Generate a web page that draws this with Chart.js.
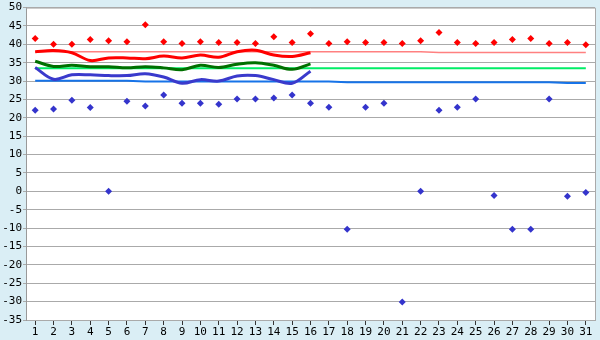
<!DOCTYPE html>
<html><head><meta charset="utf-8">
<script src="https://cdn.jsdelivr.net/npm/chart.js@4/dist/chart.umd.min.js"></script>
<style>html,body{margin:0;padding:0;background:#daeef5}#wrap{width:600px;height:340px}</style>
</head><body><div id="wrap"><canvas id="c" width="600" height="340"></canvas></div>
<script>
const days = Array.from({length:31},(_,i)=>String(i+1));
const maxTemps = [41.6,40.0,40.0,41.3,41.0,40.7,45.3,40.7,40.2,40.7,40.5,40.5,40.2,42.1,40.5,42.9,40.2,40.7,40.5,40.5,40.2,41.0,43.2,40.5,40.2,40.5,41.3,41.6,40.2,40.5,39.9];
const minTemps = [22.1,22.4,24.8,22.8,0,24.5,23.2,26.2,24.0,24.0,23.7,25.1,25.1,25.4,26.2,24.0,22.9,-10.3,22.9,24.0,-30.1,0,22.1,22.9,25.1,-1.1,-10.3,-10.3,25.1,-1.3,-0.3];
const avgMax = [38.0,38.3,37.7,35.6,36.3,36.3,36.1,36.8,36.3,37.1,36.5,38.0,38.4,37.1,36.7,37.7];
const avgMean = [35.4,34.0,34.3,33.9,33.9,33.6,33.9,33.6,33.1,34.3,33.7,34.6,35.0,34.3,33.2,34.7];
const avgMin = [33.7,30.5,31.7,31.7,31.5,31.5,32.0,31.1,29.4,30.4,30.0,31.4,31.5,30.4,29.4,32.7];
const normMax = [38.0,38.0,38.0,38.0,38.0,38.0,38.0,38.0,38.0,38.0,38.0,38.0,38.0,38.0,38.0,38.0,38.0,38.0,38.0,38.0,38.0,38.0,37.8,37.8,37.8,37.8,37.8,37.8,37.8,37.8,37.8];
const normMean = [33.5,33.5,33.5,33.5,33.5,33.5,33.5,33.5,33.5,33.5,33.5,33.5,33.5,33.5,33.5,33.5,33.5,33.5,33.5,33.5,33.5,33.5,33.5,33.5,33.5,33.5,33.5,33.5,33.5,33.5,33.5];
const normMin = [30.1,30.1,30.1,30.1,30.1,30.1,29.9,29.9,29.9,29.9,29.9,29.9,29.9,29.9,29.9,29.9,29.9,29.7,29.7,29.7,29.7,29.7,29.7,29.7,29.7,29.7,29.7,29.7,29.7,29.5,29.5];
const yTicks = {min:-35, max:50, step:5};

const bgPlugin = {
  id:'bg',
  beforeDraw(chart){
    const {ctx, chartArea:a} = chart;
    ctx.save();
    ctx.fillStyle='#daeef5'; ctx.fillRect(0,0,chart.width,chart.height);
    ctx.fillStyle='#ffffff'; ctx.fillRect(a.left,a.top,a.right-a.left,a.bottom-a.top);
    ctx.restore();
  },
  afterDraw(chart){
    const {ctx, chartArea:a} = chart;
    ctx.save();
    ctx.strokeStyle='#aaaaaa'; ctx.lineWidth=1;
    ctx.beginPath();
    ctx.moveTo(a.left, a.top+0.5); ctx.lineTo(a.right+0.5, a.top+0.5);
    ctx.lineTo(a.right+0.5, a.bottom);
    ctx.stroke();
    ctx.restore();
  }
};

const font = {family:'"DejaVu Sans Mono", monospace', size:11};
new Chart(document.getElementById('c'), {
  type:'line',
  data:{labels:days, datasets:[
    {data:maxTemps, showLine:false, pointStyle:'rectRot', pointRadius:3.5, pointBackgroundColor:'#ff0000', pointBorderColor:'#ff0000', borderWidth:0},
    {data:minTemps, showLine:false, pointStyle:'rectRot', pointRadius:3.5, pointBackgroundColor:'#3434cc', pointBorderColor:'#3434cc', borderWidth:0},
    {data:avgMax, borderColor:'#ff0000', borderWidth:3, pointRadius:0, tension:0.35},
    {data:avgMean, borderColor:'#007000', borderWidth:3, pointRadius:0, tension:0.35},
    {data:avgMin, borderColor:'#3a3acc', borderWidth:3, pointRadius:0, tension:0.35},
    {data:normMax, borderColor:'#ff8080', borderWidth:1.5, pointRadius:0, tension:0},
    {data:normMean, borderColor:'#00ee66', borderWidth:2, pointRadius:0, tension:0},
    {data:normMin, borderColor:'#1673e8', borderWidth:2, pointRadius:0, tension:0}
  ]},
  options:{
    responsive:false, animation:false, events:[],
    layout:{padding:{left:0,right:5,top:5,bottom:0}},
    plugins:{legend:{display:false}, tooltip:{enabled:false}},
    scales:{
      x:{offset:true,
        grid:{offset:false, drawOnChartArea:false, drawTicks:true, tickLength:5, color:'#333333'},
        border:{color:'#aaaaaa'},
        ticks:{font, color:'#000', padding:1, maxRotation:0, autoSkip:false},
        afterFit(s){s.height=20;}
      },
      y:{min:yTicks.min, max:yTicks.max,
        grid:{color:'#aaaaaa', lineWidth:1, tickLength:3},
        border:{color:'#999999'},
        ticks:{stepSize:yTicks.step, font, color:'#000', padding:1, callback:v=>String(v)},
        afterFit(s){s.width=26;}
      }
    }
  },
  plugins:[bgPlugin]
});
</script></body></html>
